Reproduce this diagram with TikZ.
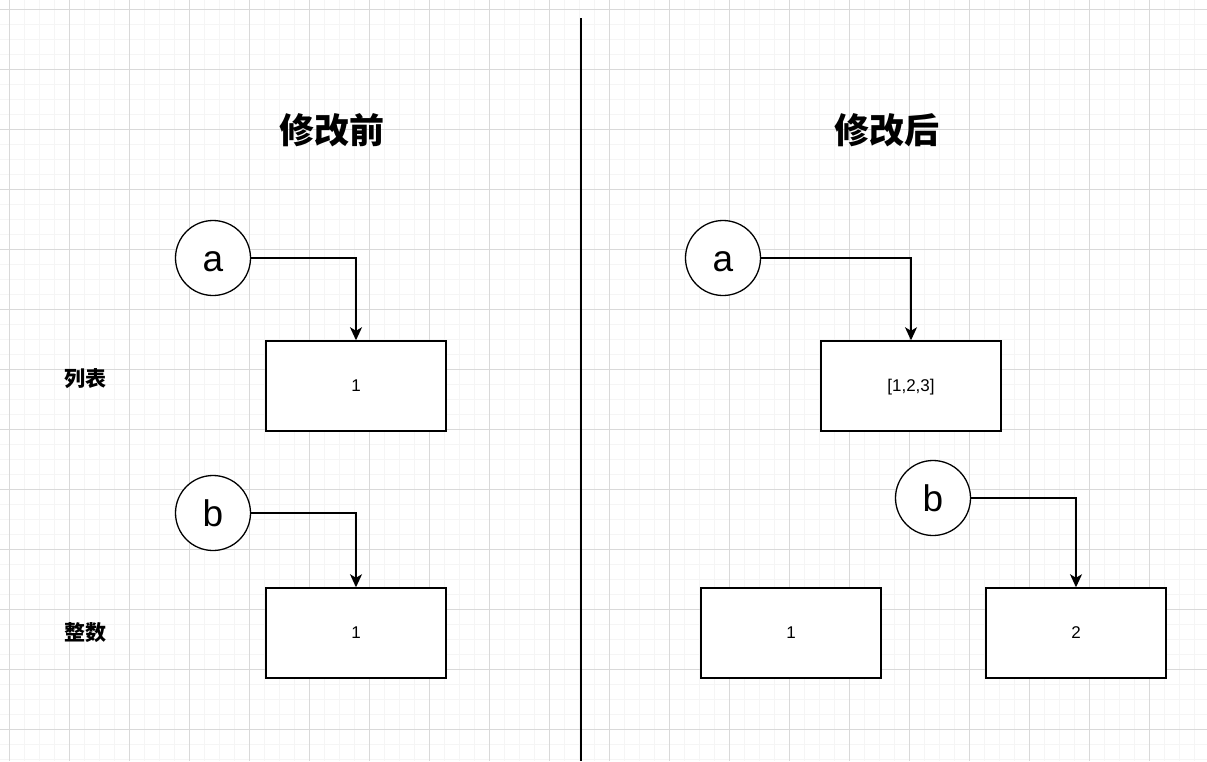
\documentclass[tikz,border=0pt]{standalone}
\usepackage{fontspec}
\setmainfont{Liberation Sans}
\newfontfamily\cjk{Noto Sans CJK SC}
\usetikzlibrary{arrows.meta}
\tikzset{
  minorgrid/.style={draw=black!4, line width=1pt},
  majorgrid/.style={draw=black!15, line width=1pt},
  varcircle/.style={circle, draw=black, fill=white, line width=1.3pt, minimum size=75pt, inner sep=0pt, text height=27.4pt, text depth=0pt, font=\fontsize{37}{40}\selectfont},
  valbox/.style={rectangle, draw=black, fill=white, line width=1.5pt, minimum width=180pt, minimum height=90pt, inner sep=0pt, text height=10pt, text depth=0pt, font=\fontsize{17}{20}\selectfont},
  titletext/.style={font=\cjk\bfseries\fontsize{35}{40}\selectfont},
  sidelabel/.style={font=\cjk\bfseries\fontsize{21}{24}\selectfont},
  arr/.style={draw=black, line width=1.5pt, -{Stealth[length=13pt,width=12pt,inset=3.5pt]}},
  divider/.style={draw=black, line width=2pt}
}
\begin{document}
\begin{tikzpicture}[x=1pt,y=-1pt]
\useasboundingbox (0,0) rectangle (1207,761);
\fill[white] (0,0) rectangle (1207,761);
% grid
\foreach \i in {0,...,80} {\draw[minorgrid] (9+15*\i,0) -- (9+15*\i,761);}
\foreach \i in {0,...,50} {\draw[minorgrid] (0,9+15*\i) -- (1207,9+15*\i);}
\foreach \i in {0,...,20} {\draw[majorgrid] (9+60*\i,0) -- (9+60*\i,761);}
\foreach \i in {0,...,12} {\draw[majorgrid] (0,9+60*\i) -- (1207,9+60*\i);}
% divider
\coordinate (divtop) at (580.5,18);
\coordinate (divbot) at (580.5,761);
\draw[divider] (divtop) -- (divbot);
% titles
\node[titletext] (t1) at (332,130) {修改前};
\node[titletext] (t2) at (887,130) {修改后};
% side labels
\node[sidelabel] (l1) at (85,379) {列表};
\node[sidelabel] (l2) at (85,633) {整数};
% left side
\node[varcircle] (a1) at (213,258) {a};
\node[valbox] (box1) at (356,386) {1};
\node[varcircle] (b1) at (213,513) {b};
\node[valbox] (box2) at (356,633) {1};
\draw[arr] (a1.east) -| (box1.north);
\draw[arr] (b1.east) -| (box2.north);
% right side
\node[varcircle] (a2) at (723,258) {a};
\node[valbox] (box3) at (911,386) {[1,2,3]};
\node[varcircle] (b2) at (933,498) {b};
\node[valbox] (box4) at (791,633) {1};
\node[valbox] (box5) at (1076,633) {2};
\draw[arr] (a2.east) -| (box3.north);
\draw[arr] (b2.east) -| (box5.north);
\end{tikzpicture}
\end{document}
